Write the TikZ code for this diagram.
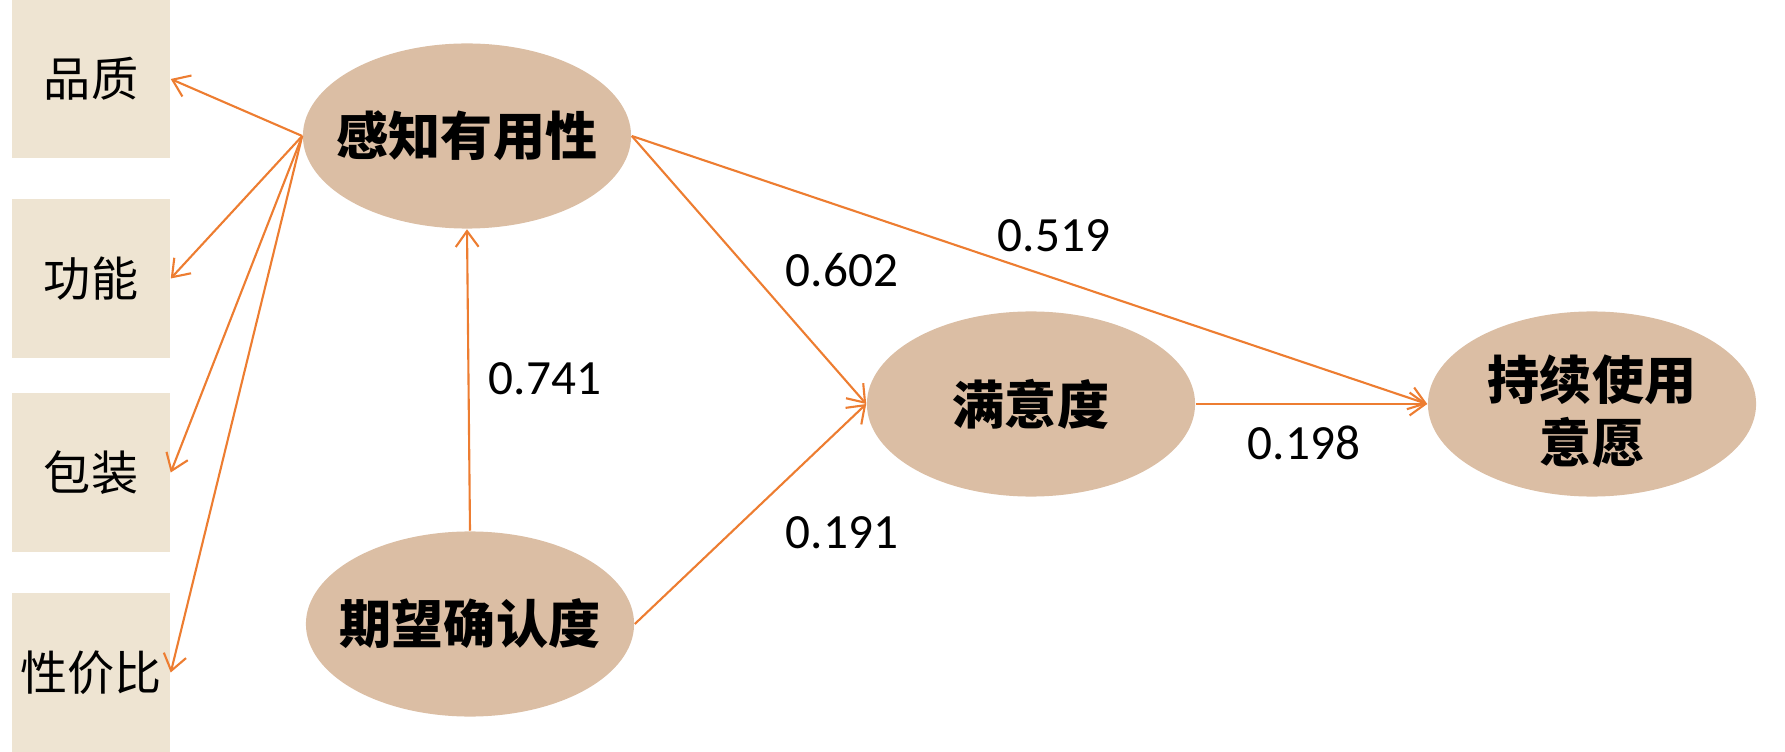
\documentclass[tikz,border=0pt]{standalone}
\usepackage{fontspec}
\newfontfamily\cjk{Noto Sans CJK SC}
\newfontfamily\numfont{Carlito}
\usepackage{tikz}
\usetikzlibrary{arrows.meta,positioning,shapes.geometric}
\definecolor{edgeor}{HTML}{ED7D31}
\definecolor{latfill}{HTML}{DBBEA4}
\definecolor{indfill}{HTML}{EEE4D2}

\begin{document}
\begin{tikzpicture}[
    x=0.01cm, y=-0.01cm,
    ind/.style={rectangle, fill=indfill, minimum width=1.58cm, minimum height=1.58cm,
      inner sep=0pt, font=\cjk\fontsize{13.4pt}{15pt}\selectfont},
    lat/.style={ellipse, fill=latfill, minimum width=3.28cm, minimum height=1.85cm,
      inner sep=0pt, font=\cjk\bfseries\fontsize{14.8pt}{17pt}\selectfont},
    ed/.style={draw=edgeor, line width=0.6pt, -{Straight Barb[length=4.5pt,width=6.5pt]}},
    coef/.style={font=\numfont\fontsize{14pt}{16pt}\selectfont, inner sep=0pt}
  ]
    \useasboundingbox (0,0) rectangle (1785,752);
    % indicators
    \node[ind] (q1) at (91,79) {品质};
    \node[ind] (q2) at (91,278.5) {功能};
    \node[ind] (q3) at (91,472.5) {包装};
    \node[ind] (q4) at (91,672.5) {性价比};
    % latent variables
    \node[lat] (ppu) at (467,136) {\makebox[0pt]{感知有用性}};
    \node[lat] (ect) at (470,624) {\makebox[0pt]{期望确认度}};
    \node[lat] (sat) at (1031,404) {\makebox[0pt]{满意度}};
    \node[lat] (ciu) at (1592,404)
      {\makebox[0pt]{\raisebox{-7.4pt}[0pt][0pt]{\begin{tabular}{@{}c@{}}持续使用\\意愿\end{tabular}}}};
    \foreach \q in {q1,q2,q3,q4} \draw[ed] (ppu.west) -- (\q.east);
    \draw[ed] (ect.north) -- (ppu.south);
    \draw[ed] (ppu.east) -- (sat.west);
    \draw[ed] (ppu.east) -- (ciu.west);
    \draw[ed] (ect.east) -- (sat.west);
    \draw[ed] (sat.east) -- (ciu.west);
    % path coefficients
    \node[coef] (c741) at (545,379) {0.741};
    \node[coef] (c602) at (842,270) {0.602};
    \node[coef] (c519) at (1054,236) {0.519};
    \node[coef] (c191) at (842,533) {0.191};
    \node[coef] (c198) at (1304,443) {0.198};
\end{tikzpicture}
\end{document}
